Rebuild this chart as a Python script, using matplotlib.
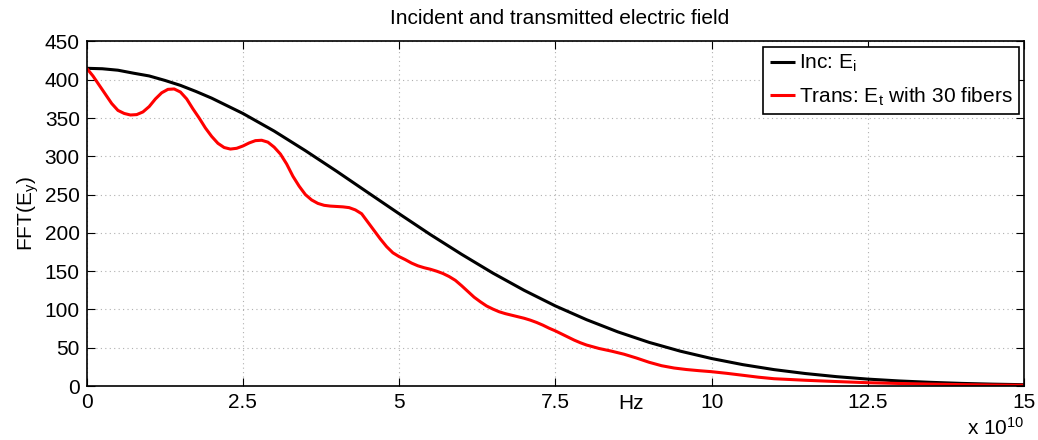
import matplotlib
matplotlib.use("Agg")
import matplotlib.pyplot as plt

plt.rcParams['font.family'] = ['Liberation Sans', 'DejaVu Sans']
plt.rcParams['mathtext.fontset'] = 'custom'
plt.rcParams['mathtext.rm'] = 'Liberation Sans'
plt.rcParams['mathtext.it'] = 'Liberation Sans'

# Frequency in units of 1e10 Hz
inc_freq = [0, 0.25, 0.5, 0.75, 1, 1.25, 1.5, 1.75, 2, 2.5, 3, 3.5, 4, 4.5, 5,
            5.5, 6, 6.5, 7, 7.5, 8, 8.5, 9, 9.5, 10, 10.5, 11, 11.5, 12, 12.5,
            13, 13.5, 14, 14.5, 15]
inc_vals = [415, 414.4, 412.5, 408.6, 405, 399.2, 392.7, 384.7, 376, 356, 333,
            307.4, 280.5, 252.7, 225, 197.8, 172, 147.5, 125, 104.6, 86.6, 70.7,
            57, 45.5, 35.9, 27.9, 21.4, 16.3, 12.2, 9, 6.6, 4.8, 3.4, 2.4, 1.7]

trans_freq = [0, 0.1, 0.2, 0.3, 0.4, 0.5, 0.6, 0.7, 0.8, 0.9, 1.0, 1.1, 1.2,
              1.3, 1.4, 1.5, 1.6, 1.7, 1.8, 1.9, 2.0, 2.1, 2.2, 2.3, 2.4, 2.5,
              2.6, 2.7, 2.8, 2.9, 3.0, 3.1, 3.2, 3.3, 3.4, 3.5, 3.6, 3.7, 3.8,
              3.9, 4.0, 4.1, 4.2, 4.3, 4.4, 4.5, 4.6, 4.7, 4.8, 4.9, 5.0, 5.1,
              5.2, 5.3, 5.4, 5.5, 5.6, 5.7, 5.8, 5.9, 6.0, 6.1, 6.2, 6.3, 6.4,
              6.5, 6.6, 6.7, 6.8, 6.9, 7.0, 7.1, 7.2, 7.3, 7.4, 7.5, 7.6, 7.7,
              7.8, 7.9, 8.0, 8.2, 8.4, 8.6, 8.8, 9.0, 9.2, 9.4, 9.6, 9.8, 10.0,
              10.25, 10.5, 10.75, 11.0, 11.5, 12.0, 12.5, 13.0, 13.5, 14.0,
              14.5, 15]
trans_vals = [415, 405, 393, 381, 369, 360, 356, 354, 354.5, 358, 365, 375, 383,
              387.5, 388, 384, 375, 362, 350, 337, 326, 317, 311.5, 309.5,
              310.5, 313.5, 317.5, 320.5, 321, 318.5, 312, 303, 290, 274, 261,
              250, 243, 238.5, 236, 235, 234.5, 234, 233, 230, 225, 214, 203,
              192, 182, 174, 169, 165, 160.5, 157, 154.5, 152.5, 150, 147, 143,
              138, 131, 123.5, 116, 110, 104.5, 100.5, 97, 94.5, 92.5, 90.5,
              88.5, 86, 83, 79.5, 75.5, 72, 68, 64, 60, 56.5, 53.5, 49, 45.5,
              41.5, 36.5, 31, 26.5, 23.5, 21.5, 20, 18.7, 16.5, 14, 11.5, 9.5,
              7.5, 5.8, 4.3, 3.3, 2.5, 1.8, 1.3, 1]

xticks = [0, 2.5, 5, 7.5, 10, 12.5, 15]
xtick_labels = ['0', '2.5', '5', '7.5', '10', '12.5', '15']
yticks = [0, 50, 100, 150, 200, 250, 300, 350, 400, 450]

W, H = 1038, 440
fig = plt.figure(figsize=(W / 100, H / 100), dpi=100)
ax = fig.add_axes([86.7 / W, 1 - 386 / H, (1024 - 86.7) / W, (386 - 41.5) / H])

fs = 15
ax.plot(inc_freq, inc_vals, color='black', lw=2.2, label=r'Inc: E$_{\rm i}$',
        solid_capstyle='butt', solid_joinstyle='round')
ax.plot(trans_freq, trans_vals, color='#ff0000', lw=2.2,
        label=r'Trans: E$_{\rm t}$ with 30 fibers', solid_capstyle='butt',
        solid_joinstyle='round')

ax.set_xlim(0, 15)
ax.set_ylim(0, 450)
ax.set_xticks(xticks)
ax.set_xticklabels(xtick_labels)
ax.set_yticks(yticks)
ax.tick_params(direction='in', length=6, width=0.8, labelsize=fs,
               top=True, right=True, pad=5)
ax.grid(True, linestyle=(0, (1, 3)), color='#b0b0b0', linewidth=0.8)
for s in ax.spines.values():
    s.set_linewidth(1.2)

ax.text((631 - 86.7) / 937.3, (386 - 403.5) / 344.5, 'Hz', transform=ax.transAxes,
        ha='center', va='center', fontsize=fs)
ax.text(1.0, (386 - 428) / 344.5, r'x 10$^{10}$', transform=ax.transAxes,
        ha='right', va='center', fontsize=fs)

fig.text(28 / W, 1 - 213.7 / H, r'FFT(E$_{\rm y}$)', rotation=90,
         ha='center', va='center', fontsize=fs)
fig.text(560 / W, 1 - 18 / H, 'Incident and transmitted electric field',
         ha='center', va='center', fontsize=fs)

leg = ax.legend(loc='upper right', fontsize=fs, frameon=True, fancybox=False,
                edgecolor='black', framealpha=1, handlelength=1.2,
                handletextpad=0.2, borderaxespad=0.25, labelspacing=0.55,
                borderpad=0.3)
leg.get_frame().set_linewidth(1.2)

fig.savefig('out.png', dpi=100)
